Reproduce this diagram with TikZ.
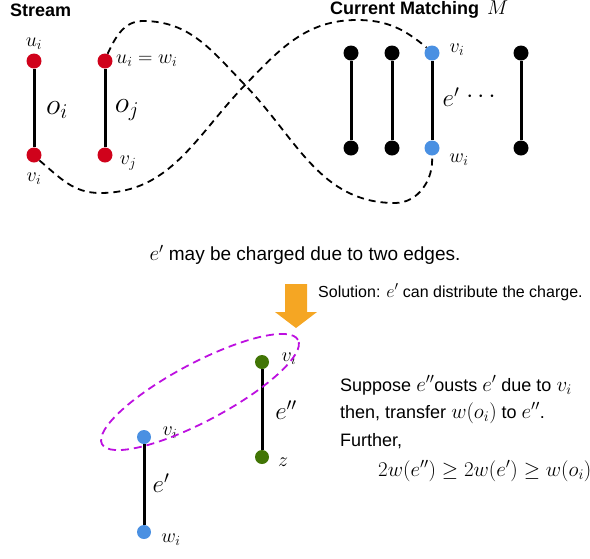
\documentclass[tikz,border=0pt]{standalone}
\usepackage{fix-cm}
\usepackage[no-math]{fontspec}
\setmainfont{Liberation Sans}
\usetikzlibrary{shapes.geometric}
\definecolor{nred}{HTML}{D0021B}
\definecolor{nblue}{HTML}{4A90E2}
\definecolor{ngreen}{HTML}{417505}
\definecolor{norange}{HTML}{F5A623}
\definecolor{nmag}{HTML}{BD10E0}
\newcommand{\mth}[1]{{\fontsize{21}{24}\selectfont$#1$}}
\newcommand{\smth}[1]{{\fontsize{18}{21}\selectfont$#1$}}
\begin{document}
\begin{tikzpicture}[x=1pt,y=-1pt,
  vtx/.style={circle,inner sep=0pt,minimum size=15pt},
  rv/.style={vtx,fill=nred},
  kv/.style={vtx,fill=black},
  bv/.style={vtx,fill=nblue},
  gv/.style={vtx,fill=ngreen},
  edgeline/.style={line width=3pt},
  curve/.style={line width=1.8pt, dash pattern=on 7pt off 5pt},
  lab/.style={inner sep=0pt, font=\fontsize{20}{24}\selectfont},
  midlab/.style={inner sep=0pt, font=\fontsize{25}{29}\selectfont},
  biglab/.style={inner sep=0pt, font=\fontsize{30}{34}\selectfont},
  title/.style={inner sep=0pt, anchor=west, font=\fontsize{18}{22}\selectfont\bfseries},
  txt/.style={inner sep=0pt, anchor=west, font=\fontsize{18}{22}\selectfont},
  smalltxt/.style={inner sep=0pt, anchor=west, font=\fontsize{16}{19}\selectfont}
]
\useasboundingbox (0,0) rectangle (590,558);

% titles
\node[title] (tstream) at (10,10) {Stream};
\node[title] (tmatch) at (330,10) {Current Matching \,{\mdseries\fontsize{20}{24}\selectfont$M$}};

% stream edges
\node[rv] (rit) at (34,61) {};
\node[rv] (rib) at (34,155) {};
\node[rv] (rjt) at (105,61) {};
\node[rv] (rjb) at (105,155) {};
\draw[edgeline] (rit) -- (rib);
\draw[edgeline] (rjt) -- (rjb);
\node[lab] (lui) at (34,44) {$u_i$};
\node[lab] (lvi) at (34,179) {$v_i$};
\node[biglab] (loi) at (57,110) {$o_i$};
\node[biglab] (loj) at (127,110) {$o_j$};
\node[lab, anchor=west] (luw) at (116,61) {$u_i = w_i$};
\node[lab] (lvj) at (128,163) {$v_j$};

% current matching
\node[kv] (k1t) at (351,53) {};
\node[kv] (k1b) at (351,148) {};
\node[kv] (k2t) at (392,53) {};
\node[kv] (k2b) at (392,148) {};
\node[bv] (bt) at (432,53) {};
\node[bv] (bb) at (432,148) {};
\node[kv] (k4t) at (521,53) {};
\node[kv] (k4b) at (521,148) {};
\draw[edgeline] (k1t) -- (k1b);
\draw[edgeline] (k2t) -- (k2b);
\draw[edgeline] (bt) -- (bb);
\draw[edgeline] (k4t) -- (k4b);
\node[lab] (lbv) at (457,50) {$v_i$};
\node[lab] (lbw) at (459,160) {$w_i$};
\node[midlab] (lep) at (451,97) {$e'$};
\node[midlab] (ldots) at (481,97) {$\cdots$};

% dashed curves
\draw[curve] (rib.-45) to[out=-40,in=180] (100,193) to[out=0,in=-134] (245,85)
  to[out=46,in=180] (357,20) to[out=0,in=140] (bt.135);
\draw[curve] (rjt.70) to[out=65,in=180] (143,21) to[out=0,in=134] (245,85)
  to[out=-46,in=180] (395,203) to[out=0,in=-85] (bb.-90);

% middle text and arrow
\node[txt, anchor=center, font=\fontsize{19}{23}\selectfont] (tcharge) at (305,255) {\mth{e'} may be charged due to two edges.};
\fill[norange] (285,284) -- (307,284) -- (307,312) -- (317,312) -- (296,328) -- (275,312) -- (285,312) -- cycle;
\node[smalltxt] (tsol) at (318,292) {Solution: \smth{e'} can distribute the charge.};

% bottom graph
\node[bv, minimum size=14pt] (ev) at (144,437) {};
\node[bv, minimum size=14pt] (ew) at (144,532) {};
\node[gv, minimum size=14pt] (fv) at (262,362) {};
\node[gv, minimum size=14pt] (fz) at (262,457) {};
\draw[edgeline] (ev) -- (ew);
\draw[edgeline] (fv) -- (fz);
\node[lab] (levl) at (170,433) {$v_i$};
\node[lab] (lewl) at (171,540) {$w_i$};
\node[midlab] (lepp) at (161,483) {$e'$};
\node[lab] (lfvl) at (289,359) {$v_i$};
\node[midlab] (lfe) at (286,410) {$e''$};
\node[lab] (lfz) at (283,462) {$z$};
\node[ellipse, draw=nmag, line width=1.8pt, dash pattern=on 8pt off 5pt,
  minimum width=222pt, minimum height=58pt, inner sep=0pt, rotate=28] (ell) at (200,392) {};

% right text
\node[txt] (s1) at (340,385) {Suppose \mth{e''}ousts \mth{e'} due to \mth{v_i}};
\node[txt] (s2) at (340,413) {then, transfer \mth{w(o_i)} to \mth{e''}.};
\node[txt] (s3) at (340,441) {Further,};
\node[txt] (s4) at (378,471) {\mth{2w(e'') \geq 2w(e') \geq w(o_i)}};
\end{tikzpicture}
\end{document}
